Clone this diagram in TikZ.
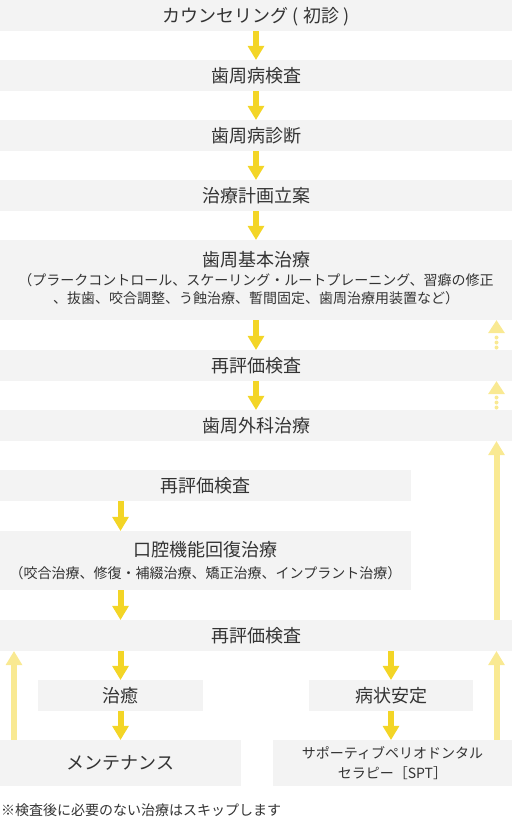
\documentclass[tikz,border=0pt]{standalone}
\usepackage{fontspec}
\setmainfont{Noto Sans CJK JP}
\usetikzlibrary{arrows.meta}
\definecolor{boxgray}{HTML}{F3F3F3}
\definecolor{txt}{HTML}{333333}
\definecolor{ydark}{HTML}{F3D526}
\definecolor{ylight}{HTML}{F9E992}
\begin{document}
\begin{tikzpicture}[x=1pt,y=-1pt,
  box/.style={fill=boxgray,inner sep=0pt,text=txt,font=\fontsize{18}{22}\selectfont,text height=15pt,text depth=2pt},
  lbl/.style={inner sep=0pt,text=txt,font=\fontsize{18}{22}\selectfont,text height=15pt,text depth=2pt},
  sub/.style={inner sep=0pt,text=txt,font=\fontsize{14}{18}\selectfont,text height=11.8pt,text depth=1.2pt},
  darr/.style={draw=ydark,line width=6pt,-{Triangle[width=17pt,length=14pt,line width=0pt 0,fill=ydark]}},
  larr/.style={draw=ylight,line width=6pt,-{Triangle[width=17pt,length=14pt,line width=0pt 0,fill=ylight]}},
  dotarr/.style={draw=ylight,line width=4pt,line cap=round,dash pattern=on 0pt off 5pt,shorten <=2.3pt,-{Triangle[width=17pt,length=13pt,line width=0pt 0,fill=ylight]}}
]
\useasboundingbox (0,0) rectangle (512,822);
\coordinate (L) at (14,0);
\coordinate (R) at (496.5,0);

\node[box,minimum width=512pt,minimum height=31pt] (c1) at (256,15.5) {カウンセリング ( 初診 )};
\node[box,minimum width=512pt,minimum height=31pt] (c2) at (256,75.5) {歯周病検査};
\node[box,minimum width=512pt,minimum height=31pt] (c3) at (256,135.5) {歯周病診断};
\node[box,minimum width=512pt,minimum height=31pt] (c4) at (256,195.5) {治療計画立案};
\node[box,minimum width=512pt,minimum height=80pt] (c5) at (256,280) {};
\node[lbl] (c5t) at (256,260) {歯周基本治療};
\node[sub] (c5a) at (256,280) {（プラークコントロール、スケーリング・ルートプレーニング、習癖の修正};
\node[sub] (c5b) at (256,298) {、抜歯、咬合調整、う蝕治療、暫間固定、歯周治療用装置など）};
\node[box,minimum width=512pt,minimum height=31pt] (c6) at (256,365.5) {再評価検査};
\node[box,minimum width=512pt,minimum height=31pt] (c7) at (256,425.5) {歯周外科治療};

\node[box,minimum width=411pt,minimum height=31pt] (c8) at (205.5,485.5) {再評価検査};
\node[box,minimum width=411pt,minimum height=59pt] (c9) at (205.5,560.5) {};
\node[lbl] (c9t) at (205.5,550) {口腔機能回復治療};
\node[sub] (c9a) at (205.5,573) {（咬合治療、修復・補綴治療、矯正治療、インプラント治療）};

\node[box,minimum width=512pt,minimum height=31pt] (c10) at (256,635.5) {再評価検査};
\node[box,minimum width=165pt,minimum height=31pt] (c11) at (120.5,695.5) {治癒};
\node[box,minimum width=164pt,minimum height=31pt] (c12) at (391,695.5) {病状安定};
\node[box,minimum width=241pt,minimum height=46pt] (c13) at (120.5,763) {メンテナンス};
\node[box,minimum width=239pt,minimum height=46pt] (c14) at (392.5,763) {};
\node[sub] (c14a) at (392.5,753) {サポーティブペリオドンタル};
\node[sub] (c14b) at (392.5,773) {セラピー［SPT］};

\node[sub,anchor=west] (note) at (1,810) {※検査後に必要のない治療はスキップします};

% main flow
\draw[darr] (c1.south) -- (c2.north);
\draw[darr] (c2.south) -- (c3.north);
\draw[darr] (c3.south) -- (c4.north);
\draw[darr] (c4.south) -- (c5.north);
\draw[darr] (c5.south) -- (c6.north);
\draw[darr] (c6.south) -- (c7.north);
\draw[darr] (c8.south -| c11.north) -- (c9.north -| c11.north);
\draw[darr] (c9.south -| c11.north) -- (c10.north -| c11.north);
\draw[darr] (c10.south -| c11.north) -- (c11.north);
\draw[darr] (c11.south) -- (c13.north -| c11.south);
\draw[darr] (c10.south -| c12.north) -- (c12.north);
\draw[darr] (c12.south) -- (c14.north -| c12.south);

% return arrows
\draw[larr] (c13.north -| L) -- (c10.south -| L);
\draw[larr] (c14.north -| R) -- (c10.south -| R);
\draw[larr] (c10.north -| R) -- (c7.south -| R);
\draw[dotarr] (c6.north -| R) -- (c5.south -| R);
\draw[dotarr] (c7.north -| R) -- (c6.south -| R);
\end{tikzpicture}
\end{document}
